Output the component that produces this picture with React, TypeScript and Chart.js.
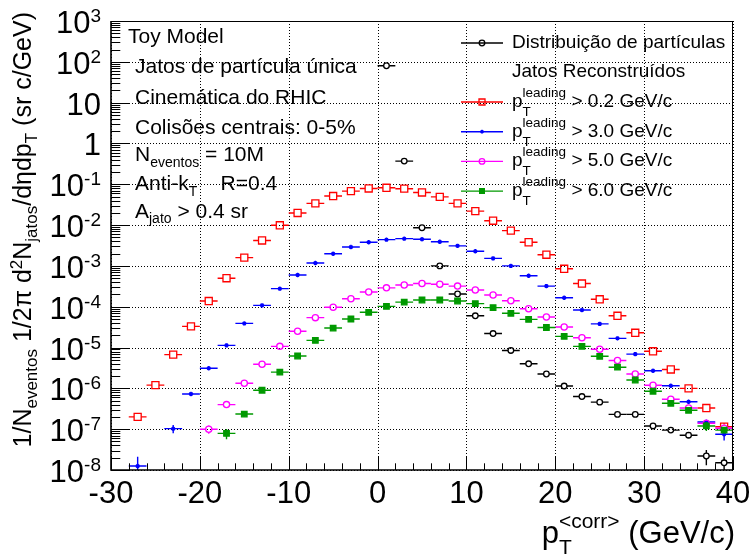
import React, { useEffect, useRef } from 'react';
import { Chart, registerables } from 'chart.js';

Chart.register(...registerables);

const W = 751;
const H = 556;
const FONT = '"Liberation Sans", Arial, Helvetica, sans-serif';

// ---- data: bin centres (GeV/c, 2 GeV/c bins) and yields ----
const BIN_HALF_WIDTH = 1;

const xPart = [1, 3, 5, 7, 9, 11, 13, 15, 17, 19, 21, 23, 25, 27, 29, 31, 33, 35, 37, 39];
const yPart = [80, 0.37, 8.6e-3, 1.0e-3, 2.05e-4, 6.0e-5, 2.2e-5, 8.5e-6, 4.0e-6, 2.25e-6, 1.14e-6,
  6.3e-7, 4.6e-7, 2.3e-7, 2.3e-7, 1.2e-7, 9.5e-8, 7.1e-8, 2.2e-8, 1.5e-8];
const errPart: [number, number][] = [[35, 0.8e-8], [37, 0.9e-8], [39, 0.6e-8]];

const xLead02 = [-27, -25, -23, -21, -19, -17, -15, -13, -11, -9, -7, -5, -3, -1, 1, 3, 5, 7, 9, 11,
  13, 15, 17, 19, 21, 23, 25, 27, 29, 31, 33, 35, 37, 39];
const yLead02 = [2.0e-7, 1.2e-6, 6.7e-6, 3.3e-5, 1.38e-4, 5.0e-4, 1.6e-3, 4.2e-3, 9.9e-3, 1.98e-2,
  3.4e-2, 5.15e-2, 6.8e-2, 7.9e-2, 8.2e-2, 7.8e-2, 6.3e-2, 4.9e-2, 3.4e-2, 2.2e-2, 1.28e-2, 7.3e-3,
  3.8e-3, 1.88e-3, 8.5e-4, 3.7e-4, 1.52e-4, 6.0e-5, 2.3e-5, 8.1e-6, 2.9e-6, 1.0e-6, 3.3e-7, 1.15e-7];
const errLead02: [number, number][] = [[39, 0.15e-7]];

const xLead30 = [-27, -23, -21, -19, -17, -15, -13, -11, -9, -7, -5, -3, -1, 1, 3, 5, 7, 9, 11,
  13, 15, 17, 19, 21, 23, 25, 27, 29, 31, 33, 35, 37, 39];
const yLead30 = [1.25e-8, 1.03e-7, 7.3e-7, 3.1e-6, 1.13e-5, 3.9e-5, 1.08e-4, 2.77e-4, 6.0e-4, 1.18e-3,
  1.99e-3, 2.9e-3, 3.8e-3, 4.4e-3, 4.65e-3, 4.5e-3, 3.9e-3, 3.1e-3, 2.28e-3, 1.53e-3, 1.0e-3, 5.75e-4,
  3.2e-4, 1.66e-4, 8.3e-5, 3.8e-5, 1.68e-5, 6.9e-6, 2.7e-6, 1.16e-6, 4.7e-7, 1.5e-7, 7.5e-8];
const errLead30: [number, number][] = [[-27, 0.85e-8], [-23, 0.24e-7], [37, 0.2e-7], [39, 2.2e-8]];

const xLead50 = [-19, -17, -15, -13, -11, -9, -7, -5, -3, -1, 1, 3, 5, 7, 9, 11, 13, 15, 17, 19, 21,
  23, 25, 27, 29, 31, 33, 35, 37, 39];
const yLead50 = [1.0e-7, 4.0e-7, 1.33e-6, 3.9e-6, 1.07e-5, 2.5e-5, 5.4e-5, 9.7e-5, 1.57e-4, 2.3e-4,
  2.9e-4, 3.4e-4, 3.7e-4, 3.55e-4, 3.2e-4, 2.57e-4, 1.94e-4, 1.4e-4, 8.9e-5, 5.6e-5, 3.2e-5, 1.74e-5,
  9.1e-6, 4.8e-6, 2.25e-6, 1.19e-6, 5.4e-7, 3.3e-7, 1.4e-7, 1.05e-7];
const errLead50: [number, number][] = [[-19, 0.23e-7], [37, 0.2e-7], [39, 0.15e-7]];

const xLead60 = [-17, -15, -13, -11, -9, -7, -5, -3, -1, 1, 3, 5, 7, 9, 11, 13, 15, 17, 19, 21, 23,
  25, 27, 29, 31, 33, 35, 37, 39];
const yLead60 = [7.9e-8, 2.35e-7, 9.0e-7, 2.5e-6, 6.2e-6, 1.5e-5, 3.0e-5, 5.0e-5, 7.3e-5, 1.02e-4,
  1.3e-4, 1.46e-4, 1.46e-4, 1.38e-4, 1.19e-4, 9.5e-5, 6.9e-5, 4.9e-5, 3.1e-5, 1.88e-5, 1.07e-5, 6.1e-6,
  3.3e-6, 1.6e-6, 8.5e-7, 4.3e-7, 2.9e-7, 1.2e-7, 9.5e-8];
const errLead60: [number, number][] = [[-17, 0.22e-7], [-15, 0.3e-7], [37, 0.3e-7], [39, 1.6e-8]];

// ---- axes ----
const X_MIN = -30;
const X_MAX = 40;
const xTickValues = [-30, -20, -10, 0, 10, 20, 30, 40];
const xTickLabels = ['-30', '-20', '-10', '0', '10', '20', '30', '40'];
const Y_MIN = 1e-8;
const Y_MAX = 1e3;
const yTickValues = [1e3, 1e2, 1e1, 1, 1e-1, 1e-2, 1e-3, 1e-4, 1e-5, 1e-6, 1e-7, 1e-8];
const yTickLabels: [string, string][] = [['10', '3'], ['10', '2'], ['10', ''], ['1', ''], ['10', '-1'],
  ['10', '-2'], ['10', '-3'], ['10', '-4'], ['10', '-5'], ['10', '-6'], ['10', '-7'], ['10', '-8']];

type Marker = 'circle' | 'rect' | 'star';
interface Series {
  label: string;
  cut: string;
  xs: number[];
  ys: number[];
  errs: [number, number][];
  color: string;
  marker: Marker;
  radius: number;
  filled: boolean;
}

const series: Series[] = [
  { label: 'Distribuição de partículas', cut: '', xs: xPart, ys: yPart, errs: errPart, color: '#000000', marker: 'circle', radius: 2.8, filled: false },
  { label: '', cut: '0.2', xs: xLead02, ys: yLead02, errs: errLead02, color: '#ff0000', marker: 'rect', radius: 5, filled: false },
  { label: '', cut: '3.0', xs: xLead30, ys: yLead30, errs: errLead30, color: '#0000ff', marker: 'star', radius: 2.2, filled: false },
  { label: '', cut: '5.0', xs: xLead50, ys: yLead50, errs: errLead50, color: '#ff00ff', marker: 'circle', radius: 3.1, filled: false },
  { label: '', cut: '6.0', xs: xLead60, ys: yLead60, errs: errLead60, color: '#009900', marker: 'rect', radius: 3.9, filled: true },
];

// ---- rich text helpers (sub/superscripts) ----
type Seg =
  | { t: string; size: number; dy?: number }
  | { sup: string; sub: string; size: number; supDy: number; subDy: number };

function segWidth(ctx: CanvasRenderingContext2D, s: Seg): number {
  ctx.font = `${s.size}px ${FONT}`;
  if ('t' in s) return ctx.measureText(s.t).width;
  return Math.max(ctx.measureText(s.sup).width, ctx.measureText(s.sub).width);
}

function richWidth(ctx: CanvasRenderingContext2D, segs: Seg[]): number {
  return segs.reduce((a, s) => a + segWidth(ctx, s), 0);
}

function drawRich(ctx: CanvasRenderingContext2D, segs: Seg[], x: number, y: number) {
  let cx = x;
  ctx.textAlign = 'left';
  ctx.textBaseline = 'alphabetic';
  for (const s of segs) {
    ctx.font = `${s.size}px ${FONT}`;
    if ('t' in s) {
      ctx.fillText(s.t, cx, y + (s.dy || 0));
    } else {
      ctx.fillText(s.sup, cx, y + s.supDy);
      ctx.fillText(s.sub, cx, y + s.subDy);
    }
    cx += segWidth(ctx, s);
  }
}

function drawMarker(ctx: CanvasRenderingContext2D, m: Marker, x: number, y: number, r: number, color: string, filled: boolean) {
  ctx.save();
  ctx.strokeStyle = color;
  ctx.fillStyle = color;
  ctx.lineWidth = 1.3;
  ctx.beginPath();
  if (m === 'circle') {
    ctx.arc(x, y, r, 0, Math.PI * 2);
  } else if (m === 'rect') {
    const h = r * Math.SQRT1_2;
    ctx.rect(x - h, y - h, 2 * h, 2 * h);
  } else {
    for (let k = 0; k < 4; k++) {
      const a = (k * Math.PI) / 4;
      ctx.moveTo(x - r * Math.cos(a), y - r * Math.sin(a));
      ctx.lineTo(x + r * Math.cos(a), y + r * Math.sin(a));
    }
  }
  if (filled) ctx.fill();
  ctx.stroke();
  ctx.restore();
}

const infoLines: { x: number; y: number; segs: Seg[] }[] = [
  { x: 128, y: 43, segs: [{ t: 'Toy Model', size: 21 }] },
  { x: 135, y: 73, segs: [{ t: 'Jatos de partícula única', size: 21 }] },
  { x: 135, y: 104, segs: [{ t: 'Cinemática do RHIC', size: 21 }] },
  { x: 135, y: 134, segs: [{ t: 'Colisões centrais: 0-5%', size: 21 }] },
  { x: 135, y: 161, segs: [{ t: 'N', size: 21 }, { t: 'eventos', size: 14, dy: 6 }, { t: ' = 10M', size: 21 }] },
  { x: 135, y: 190, segs: [{ t: 'Anti-k', size: 21 }, { t: 'T', size: 14, dy: 6 }, { t: '    R=0.4', size: 21 }] },
  { x: 135, y: 218, segs: [{ t: 'A', size: 21 }, { t: 'jato', size: 14, dy: 5 }, { t: ' > 0.4 sr', size: 21 }] },
];

const decorPlugin = {
  id: 'decor',
  beforeDatasetsDraw(chart: any) {
    const { ctx, chartArea: a, scales } = chart;
    const xs = scales.x;
    const ys = scales.y;
    ctx.save();
    ctx.strokeStyle = '#000';
    ctx.lineWidth = 1;
    ctx.setLineDash([1, 2]);
    for (const v of xTickValues) {
      const px = Math.round(xs.getPixelForValue(v)) + 0.5;
      ctx.beginPath();
      ctx.moveTo(px, a.top);
      ctx.lineTo(px, a.bottom);
      ctx.stroke();
    }
    for (const v of yTickValues) {
      const py = Math.round(ys.getPixelForValue(v)) + 0.5;
      ctx.beginPath();
      ctx.moveTo(a.left, py);
      ctx.lineTo(a.right, py);
      ctx.stroke();
    }
    ctx.restore();
  },
  beforeDatasetDraw(chart: any, args: any) {
    const s = series[args.index];
    const { ctx, chartArea: a, scales } = chart;
    const xs = scales.x;
    const ys = scales.y;
    const gap = s.filled || s.marker === 'star' ? 0 : (s.marker === 'rect' ? s.radius * Math.SQRT1_2 : s.radius);
    ctx.save();
    ctx.beginPath();
    ctx.rect(a.left, a.top, a.right - a.left, a.bottom - a.top);
    ctx.clip();
    ctx.strokeStyle = s.color;
    ctx.lineWidth = 1.4;
    s.xs.forEach((x, i) => {
      const px = xs.getPixelForValue(x);
      const py = ys.getPixelForValue(s.ys[i]);
      const l = xs.getPixelForValue(x - BIN_HALF_WIDTH);
      const r = xs.getPixelForValue(x + BIN_HALF_WIDTH);
      ctx.beginPath();
      ctx.moveTo(l, py);
      ctx.lineTo(px - gap, py);
      ctx.moveTo(px + gap, py);
      ctx.lineTo(r, py);
      const e = s.errs.find((p) => p[0] === x);
      if (e) {
        const hi = ys.getPixelForValue(s.ys[i] + e[1]);
        const lo = s.ys[i] - e[1] > 0 ? ys.getPixelForValue(s.ys[i] - e[1]) : a.bottom;
        ctx.moveTo(px, hi);
        ctx.lineTo(px, py - gap);
        ctx.moveTo(px, py + gap);
        ctx.lineTo(px, lo);
      }
      ctx.stroke();
    });
    ctx.restore();
  },
  afterDatasetsDraw(chart: any) {
    const { ctx, chartArea: a, scales } = chart;
    const xs = scales.x;
    const ys = scales.y;
    ctx.save();
    ctx.setLineDash([]);
    ctx.strokeStyle = '#000';
    ctx.fillStyle = '#000';

    // frame
    ctx.lineWidth = 1;
    ctx.beginPath();
    ctx.moveTo(a.left, a.top + 0.5);
    ctx.lineTo(a.right, a.top + 0.5);
    ctx.moveTo(a.right - 0.5, a.top);
    ctx.lineTo(a.right - 0.5, a.bottom);
    ctx.stroke();
    ctx.lineWidth = 1.6;
    ctx.beginPath();
    ctx.moveTo(a.left, a.top);
    ctx.lineTo(a.left, a.bottom);
    ctx.lineTo(a.right, a.bottom);
    ctx.stroke();

    // x ticks: major every 10, minor every 2
    ctx.lineWidth = 1;
    ctx.beginPath();
    for (let v = X_MIN; v <= X_MAX; v += 2) {
      const px = Math.round(xs.getPixelForValue(v)) + 0.5;
      const len = v % 10 === 0 ? 13.5 : 6.7;
      ctx.moveTo(px, a.bottom);
      ctx.lineTo(px, a.bottom - len);
    }
    // y ticks: log decades with 2..9 subdivisions
    for (let k = -8; k <= 2; k++) {
      for (let m = 1; m <= 9; m++) {
        const py = Math.round(ys.getPixelForValue(m * Math.pow(10, k))) + 0.5;
        const len = m === 1 ? 18.7 : 9.3;
        ctx.moveTo(a.left, py);
        ctx.lineTo(a.left + len, py);
      }
    }
    const pyTop = Math.round(ys.getPixelForValue(Y_MAX)) + 0.5;
    ctx.moveTo(a.left, pyTop);
    ctx.lineTo(a.left + 18.7, pyTop);
    ctx.stroke();

    // x tick labels
    ctx.font = `31px ${FONT}`;
    ctx.textAlign = 'center';
    ctx.textBaseline = 'alphabetic';
    xTickValues.forEach((v, i) => {
      ctx.fillText(xTickLabels[i], xs.getPixelForValue(v), a.bottom + 33);
    });

    // y tick labels
    yTickValues.forEach((v, i) => {
      const [base, exp] = yTickLabels[i];
      const segs: Seg[] = [{ t: base, size: 31 }];
      if (exp) segs.push({ t: exp, size: 19, dy: -11 });
      const w = richWidth(ctx, segs);
      drawRich(ctx, segs, 101 - w, ys.getPixelForValue(v) + 12);
    });

    // x title
    const xTitle: Seg[] = [
      { t: 'p', size: 31 },
      { sup: '<corr>', sub: 'T', size: 21, supDy: -15, subDy: 11 },
      { t: ' (GeV/c)', size: 31 },
    ];
    drawRich(ctx, xTitle, 735 - richWidth(ctx, xTitle), 543);

    // y title (rotated)
    const yTitle: Seg[] = [
      { t: '1/N', size: 25 },
      { t: 'eventos', size: 17, dy: 6 },
      { t: ' 1/2π d', size: 25 },
      { t: '2', size: 17, dy: -9 },
      { t: 'N', size: 25 },
      { t: 'jatos', size: 17, dy: 6 },
      { t: '/dηdp', size: 25 },
      { t: 'T', size: 17, dy: 6 },
      { t: ' (sr c/GeV)', size: 25 },
    ];
    const yw = richWidth(ctx, yTitle);
    ctx.save();
    ctx.translate(31, 12 + yw);
    ctx.rotate(-Math.PI / 2);
    drawRich(ctx, yTitle, 0, 0);
    ctx.restore();

    // info text
    for (const line of infoLines) drawRich(ctx, line.segs, line.x, line.y);

    // legend
    const lx = 512;
    const lineL = 461;
    const lineR = 503;
    const mx = 482;
    const rows: { y: number; s?: Series; segs: Seg[] }[] = [
      { y: 48, s: series[0], segs: [{ t: series[0].label, size: 19 }] },
      { y: 77, segs: [{ t: 'Jatos Reconstruídos', size: 19 }] },
    ];
    series.slice(1).forEach((s, i) => {
      rows.push({
        y: 107 + 29.7 * i,
        s,
        segs: [
          { t: 'p', size: 19 },
          { sup: 'leading', sub: 'T', size: 13.5, supDy: -10, subDy: 9 },
          { t: ` > ${s.cut} GeV/c`, size: 19 },
        ],
      });
    });
    for (const row of rows) {
      ctx.fillStyle = '#000';
      drawRich(ctx, row.segs, lx, row.y);
      if (row.s) {
        const my = row.y - 5;
        ctx.strokeStyle = row.s.color;
        ctx.lineWidth = 1.4;
        ctx.beginPath();
        ctx.moveTo(lineL, my);
        ctx.lineTo(lineR, my);
        ctx.stroke();
        drawMarker(ctx, row.s.marker, mx, my, row.s.marker === 'circle' ? 2.8 : row.s.radius * 0.85, row.s.color, row.s.filled);
      }
    }
    ctx.restore();
  },
};

export default function App() {
  const ref = useRef<HTMLCanvasElement>(null);
  useEffect(() => {
    const canvas = ref.current;
    if (!canvas) return;
    const chart = new Chart(canvas, {
      type: 'scatter',
      data: {
        datasets: series.map((s, i) => ({
          label: s.label || `p_T^leading > ${s.cut} GeV/c`,
          data: s.xs.map((x, j) => ({ x, y: s.ys[j] })),
          showLine: false,
          order: series.length - i,
          pointStyle: s.marker,
          pointRadius: s.radius,
          pointBorderWidth: 1.3,
          pointBorderColor: s.color,
          pointBackgroundColor: s.filled ? s.color : 'rgba(0,0,0,0)',
          pointHoverRadius: s.radius,
        })),
      },
      options: {
        responsive: false,
        animation: false,
        events: [],
        layout: { padding: { top: 21, right: 18, left: 0, bottom: 0 } },
        plugins: { legend: { display: false }, tooltip: { enabled: false } },
        scales: {
          x: {
            type: 'linear',
            min: X_MIN,
            max: X_MAX,
            ticks: { display: false },
            grid: { display: false },
            border: { display: false },
            afterFit: (sc: any) => { sc.height = 86; },
          },
          y: {
            type: 'logarithmic',
            min: Y_MIN,
            max: Y_MAX,
            ticks: { display: false },
            grid: { display: false },
            border: { display: false },
            afterFit: (sc: any) => { sc.width = 111; },
          },
        },
      },
      plugins: [decorPlugin],
    } as any);
    return () => chart.destroy();
  }, []);
  return (
    <div style={{ position: 'fixed', left: 0, top: 0, width: W, height: H, background: '#ffffff' }}>
      <canvas ref={ref} width={W} height={H} style={{ display: 'block', width: W, height: H }} />
    </div>
  );
}
